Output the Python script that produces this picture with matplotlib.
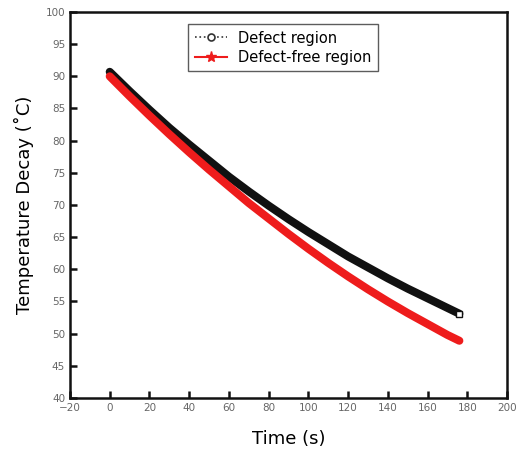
import matplotlib
matplotlib.use("Agg")
import matplotlib.pyplot as plt
from matplotlib.lines import Line2D

# values (time in s, temperature in deg C)
time_s = [0, 10, 20, 30, 40, 50, 60, 70, 80, 90, 100, 110, 120, 130, 140, 150, 160, 170, 176]
defect = [90.7, 87.7, 84.8, 82.0, 79.4, 76.9, 74.4, 72.1, 69.9, 67.8, 65.8, 63.9, 62.0, 60.3, 58.6, 57.0, 55.5, 54.0, 53.1]
defect_free = [90.0, 86.9, 83.9, 81.0, 78.2, 75.5, 72.9, 70.3, 67.9, 65.5, 63.2, 61.0, 58.9, 56.9, 55.0, 53.2, 51.5, 49.8, 48.9]

x_ticks = list(range(-20, 201, 20))
y_ticks = list(range(40, 101, 5))

fig = plt.figure(figsize=(5.17, 4.63), dpi=100)
ax = fig.add_axes([0.1354, 0.1404, 0.8453, 0.8337])

ax.plot(time_s, defect, color="#111111", lw=5.8, solid_capstyle="round",
        solid_joinstyle="round", zorder=2)
ax.plot(time_s[-1:], defect[-1:], ls="none", marker="s", ms=5,
        mfc="white", mec="#111111", mew=1.0, zorder=4)
ax.plot(time_s, defect_free, color="#ee1c1c", lw=5.8, solid_capstyle="round",
        solid_joinstyle="round", zorder=3)

ax.set_xlim(-20, 200)
ax.set_ylim(40, 100)
ax.set_xticks(x_ticks)
ax.set_yticks(y_ticks)
ax.tick_params(direction="in", length=5, width=1.8, colors="#111111",
               labelcolor="#666666", labelsize=7.5, top=False, right=False)
for s in ax.spines.values():
    s.set_linewidth(1.8)
    s.set_color("#111111")

ax.set_xlabel("Time (s)", fontsize=13, labelpad=12)
ax.set_ylabel("Temperature Decay (˚C)", fontsize=13, labelpad=8)

handles = [
    Line2D([], [], color="#333333", ls=":", lw=1.2, marker="o", ms=5,
           mfc="white", mec="#333333", mew=1.2),
    Line2D([], [], color="#ee1c1c", ls="-", lw=1.5, marker="*", ms=8,
           mfc="#ee1c1c", mec="#ee1c1c"),
]
leg = ax.legend(handles, ["Defect region", "Defect-free region"],
                loc="upper left", bbox_to_anchor=(0.27, 0.969), borderaxespad=0,
                fontsize=10.5, frameon=True, fancybox=False, handlelength=2.2,
                borderpad=0.45, labelspacing=0.3, handletextpad=0.8)
leg.get_frame().set_edgecolor("#333333")
leg.get_frame().set_linewidth(1.0)

fig.savefig("out.png", dpi=100, facecolor="white")
